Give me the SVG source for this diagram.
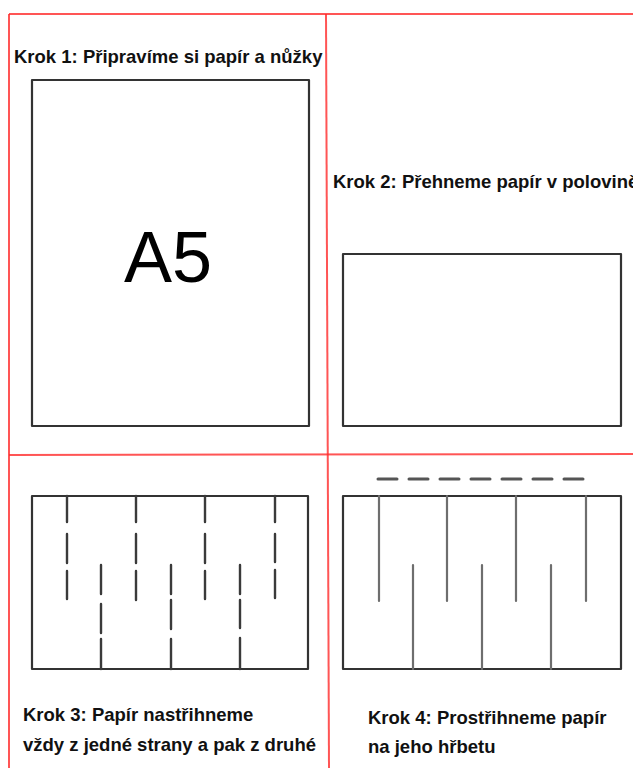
<svg xmlns="http://www.w3.org/2000/svg" width="633" height="768" viewBox="0 0 633 768">
<style>
.grid{stroke:#ff2a2a;stroke-opacity:0.8;stroke-width:2;fill:none}
.sheet{fill:#fff;stroke:#333;stroke-width:2.2;stroke-linejoin:round}
.cut{stroke:#3a3a3a;stroke-width:2.4;stroke-linecap:round}
.cut2{stroke:#6e6e6e;stroke-width:2.2;stroke-linecap:round}
.spine{stroke:#555;stroke-width:3;stroke-linecap:round;stroke-dasharray:19 12}
.lbl{font-family:"Liberation Sans",Arial,sans-serif;font-weight:bold;font-size:18.5px;fill:#111}
</style>
<rect width="633" height="768" fill="#fff"/>
<g id="grid">
<line class="grid" x1="9" y1="14" x2="633" y2="14"/>
<line class="grid" x1="9" y1="14" x2="9" y2="768"/>
<line class="grid" x1="326" y1="14" x2="329" y2="768"/>
<line class="grid" x1="9" y1="455" x2="633" y2="454"/>
</g>
<g id="step1">
<text class="lbl" x="14" y="63">Krok 1: Připravíme si papír a nůžky</text>
<rect class="sheet" x="32" y="80" width="277" height="346"/>
<text x="124" y="282" font-family="Liberation Sans,Arial,sans-serif" font-size="72" fill="#000">A5</text>
</g>
<g id="step2">
<text class="lbl" x="333" y="188">Krok 2: Přehneme papír v polovině</text>
<rect class="sheet" x="343" y="254" width="278" height="172"/>
</g>
<g id="step3">
<rect class="sheet" x="32" y="496" width="276" height="173"/>
<g class="cut">
<path d="M67 496V522M67 534V563M67 571V599"/>
<path d="M136 496V522M136 534V563M136 571V600"/>
<path d="M205 496V522M205 534V563M205 571V599"/>
<path d="M275 496V522M275 534V562M275 570V598"/>
<path d="M101 565V594M101 604V633M101 639V669"/>
<path d="M171 565V594M171 600V629M171 639V669"/>
<path d="M240 565V594M240 600V628M240 638V669"/>
</g>
<text class="lbl" x="23" y="721">Krok 3: Papír nastřihneme</text>
<text class="lbl" x="23" y="751">vždy z jedné strany a pak z druhé</text>
</g>
<g id="step4">
<line class="spine" x1="378" y1="479" x2="586" y2="479"/>
<rect class="sheet" x="343" y="496" width="278" height="173"/>
<g class="cut2">
<path d="M379 496V601M447 496V601M516 496V601M586 496V601"/>
<path d="M413 565V669M482 565V669M551 565V669"/>
</g>
<text class="lbl" x="368" y="724">Krok 4: Prostřihneme papír</text>
<text class="lbl" x="368" y="753">na jeho hřbetu</text>
</g>
</svg>
